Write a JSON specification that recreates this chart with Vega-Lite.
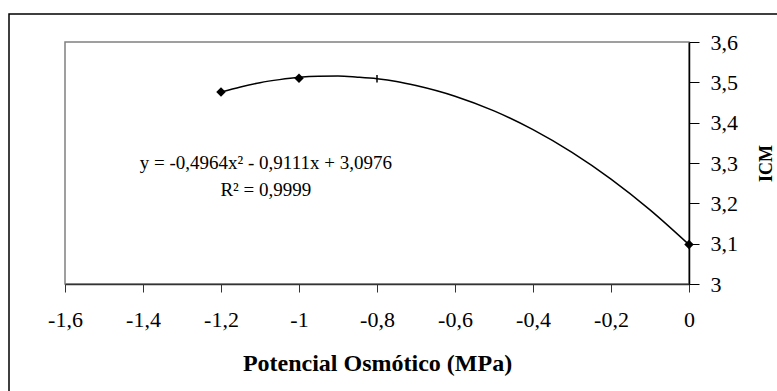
{
  "$schema": "https://vega.github.io/schema/vega-lite/v6.json",
  "width": 624,
  "height": 242,
  "autosize": {"type": "none"},
  "padding": {"left": 65, "top": 42, "right": 88, "bottom": 107},
  "background": "white",
  "config": {
    "view": {"stroke": "#808080", "strokeWidth": 1.5},
    "font": "Liberation Serif",
    "axis": {"grid": false, "labelFont": "Liberation Serif", "titleFont": "Liberation Serif", "labelColor": "black", "titleColor": "black"}
  },
  "datasets": {
    "obs": [
      {"potencial": -1.2, "icm": 3.476},
      {"potencial": -1.0, "icm": 3.51},
      {"potencial": 0.0, "icm": 3.098}
    ],
    "extra": [
      {"potencial": -0.8, "icm": 3.509}
    ],
    "curve": [
      {"potencial": -1.2, "icm": 3.4761},
      {"potencial": -1.15, "icm": 3.4886},
      {"potencial": -1.1, "icm": 3.4992},
      {"potencial": -1.05, "icm": 3.5067},
      {"potencial": -1.0, "icm": 3.5123},
      {"potencial": -0.95, "icm": 3.5150},
      {"potencial": -0.9, "icm": 3.5155},
      {"potencial": -0.85, "icm": 3.5127},
      {"potencial": -0.8, "icm": 3.5088},
      {"potencial": -0.75, "icm": 3.5022},
      {"potencial": -0.7, "icm": 3.4921},
      {"potencial": -0.6, "icm": 3.4656},
      {"potencial": -0.5, "icm": 3.4291},
      {"potencial": -0.4, "icm": 3.3826},
      {"potencial": -0.3, "icm": 3.3263},
      {"potencial": -0.2, "icm": 3.2600},
      {"potencial": -0.1, "icm": 3.1838},
      {"potencial": 0.0, "icm": 3.0976}
    ],
    "eq": [
      {"potencial": -1.085, "icm": 3.30, "texto": "y = -0,4964x² - 0,9111x + 3,0976"},
      {"potencial": -1.085, "icm": 3.232, "texto": "R² = 0,9999"}
    ],
    "frame": [{"moldura": "quadro"}]
  },
  "layer": [
    {
      "data": {"name": "curve"},
      "mark": {"type": "line", "color": "black", "strokeWidth": 1.5, "interpolate": "monotone"},
      "encoding": {
        "x": {
          "field": "potencial", "type": "quantitative",
          "scale": {"domain": [-1.6, 0], "nice": false, "zero": false},
          "axis": {
            "orient": "bottom",
            "values": [-1.6, -1.4, -1.2, -1.0, -0.8, -0.6, -0.4, -0.2, 0],
            "labelExpr": "replace(toString(datum.value), '.', ',')",
            "labelFlush": false,
            "labelOverlap": false,
            "labelFontSize": 22,
            "labelPadding": 17,
            "tickSize": 8,
            "tickColor": "#333333",
            "domainColor": "#333333",
            "domainWidth": 1.5,
            "title": "Potencial Osmótico (MPa)",
            "titleFontSize": 24,
            "titleFontWeight": "bold",
            "titleBaseline": "alphabetic",
            "titleY": 86,
            "titleX": 312
          }
        },
        "y": {
          "field": "icm", "type": "quantitative",
          "scale": {"domain": [3, 3.6], "nice": false, "zero": false},
          "axis": {
            "orient": "right",
            "values": [3, 3.1, 3.2, 3.3, 3.4, 3.5, 3.6],
            "labelExpr": "replace(toString(datum.value), '.', ',')",
            "labelFlush": false,
            "labelOverlap": false,
            "labelFontSize": 22,
            "labelPadding": 11,
            "tickSize": 10,
            "tickColor": "black",
            "domainColor": "black",
            "domainWidth": 1.5,
            "title": "ICM",
            "titleFontSize": 18,
            "titleFontWeight": "bold",
            "titleAngle": 270,
            "titleAlign": "center",
            "titleBaseline": "middle",
            "titleX": 77,
            "titleY": 121
          }
        }
      }
    },
    {
      "data": {"name": "obs"},
      "mark": {"type": "point", "shape": "diamond", "filled": true, "color": "black", "size": 90, "opacity": 1},
      "encoding": {
        "x": {"field": "potencial", "type": "quantitative"},
        "y": {"field": "icm", "type": "quantitative"}
      }
    },
    {
      "data": {"name": "extra"},
      "mark": {"type": "point", "shape": "M0,-1L0,1", "filled": false, "stroke": "black", "strokeWidth": 1.5, "size": 55, "opacity": 1},
      "encoding": {
        "x": {"field": "potencial", "type": "quantitative"},
        "y": {"field": "icm", "type": "quantitative"}
      }
    },
    {
      "data": {"name": "eq"},
      "mark": {"type": "text", "font": "Liberation Serif", "fontSize": 19, "align": "center", "baseline": "middle", "color": "black"},
      "encoding": {
        "x": {"field": "potencial", "type": "quantitative"},
        "y": {"field": "icm", "type": "quantitative"},
        "text": {"field": "texto"}
      }
    },
    {
      "data": {"name": "frame"},
      "mark": {"type": "rect", "fill": null, "stroke": "black", "strokeWidth": 1.5, "clip": false},
      "encoding": {
        "x": {"value": -56},
        "y": {"value": -28},
        "x2": {"value": 800},
        "y2": {"value": 400}
      }
    }
  ]
}
